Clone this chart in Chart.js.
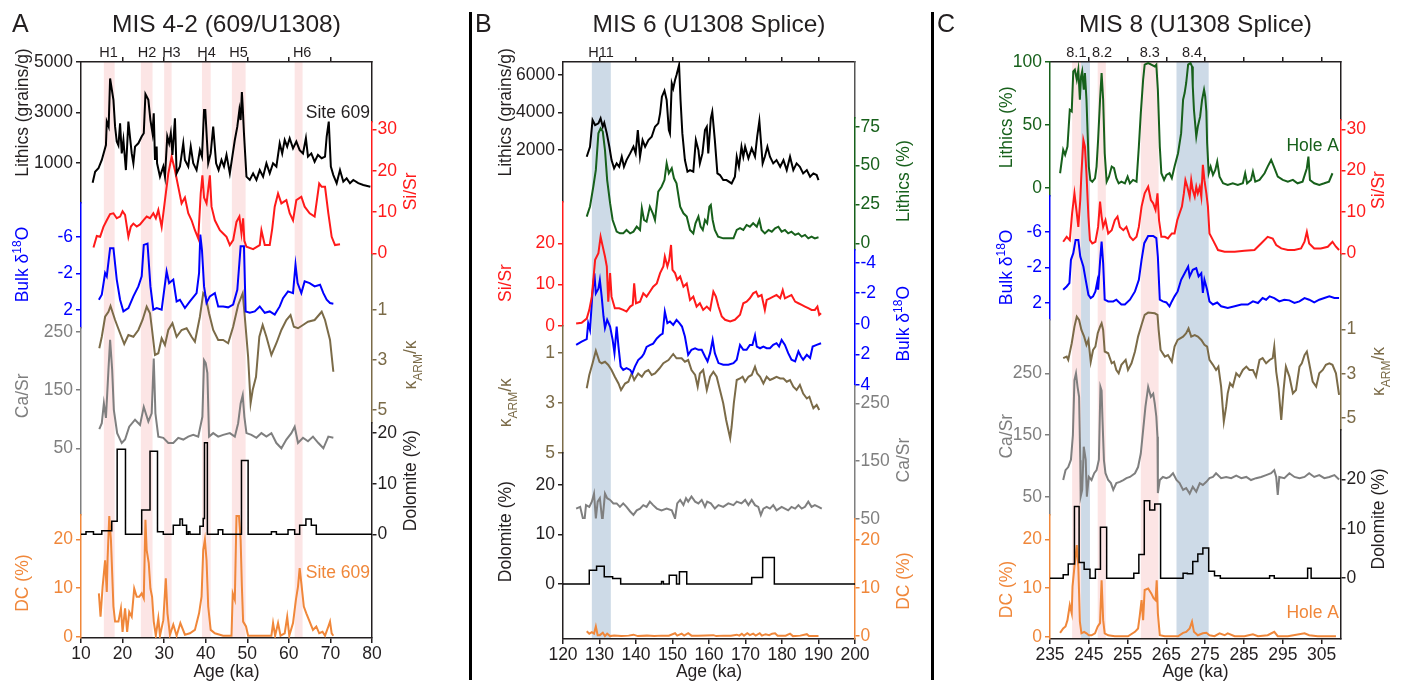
<!DOCTYPE html>
<html>
<head>
<meta charset="utf-8">
<script src="https://cdn.jsdelivr.net/npm/chart.js@4.4.1/dist/chart.umd.min.js"></script>
<style>
  body { margin: 0; background: #fff; width: 1406px; height: 687px; position: relative; overflow: hidden; }
  canvas { position: absolute; top: 0; }
  .rule { position: absolute; top: 12px; height: 668px; background: #000; }
</style>
</head>
<body>
<canvas id="cA" width="469" height="687" style="left:0"></canvas>
<div class="rule" style="left:469px;width:3px"></div>
<canvas id="cB" width="458" height="687" style="left:473px"></canvas>
<div class="rule" style="left:931px;width:2.5px"></div>
<canvas id="cC" width="472" height="687" style="left:934px"></canvas>
<script>
// ---- MIS 4-2 (609/U1308) : [age ka, value]
const aLith = [[12.8,220],[13.4,650],[14.2,790],[15.0,1120],[16.0,1710],[16.2,2640],[16.65,2440],[17.0,4350],[17.4,3920],[17.8,3500],[18.2,2440],[18.6,1850],[19.0,1700],[19.4,2570],[19.8,1380],[20.2,1910],[20.8,720],[21.4,2640],[22.2,1380],[22.6,990],[23.0,1650],[23.8,1780],[24.6,2050],[25.1,2180],[25.5,3730],[26.2,3500],[26.7,2700],[27.2,2180],[27.5,2970],[27.8,1120],[28.2,1650],[28.3,990],[29.0,460],[29.8,860],[30.2,460],[30.75,2050],[31.2,1780],[31.6,2180],[32.0,1320],[32.6,2770],[33.0,590],[33.8,860],[34.6,1780],[35.0,1120],[35.8,860],[36.4,1650],[37.0,990],[37.8,720],[38.6,1510],[39.1,1250],[39.6,3100],[39.9,3100],[40.2,2180],[40.6,990],[41.2,1380],[41.8,2440],[42.5,990],[43.1,720],[43.8,1120],[44.4,860],[45.0,1320],[45.8,590],[46.4,1250],[47.0,1910],[47.6,2440],[48.1,3100],[48.4,2700],[48.7,3810],[48.9,3230],[49.2,2180],[49.8,460],[50.6,330],[51.4,590],[52.2,330],[53.0,720],[53.8,460],[54.6,990],[55.4,590],[56.2,990],[57.0,860],[57.8,1780],[58.4,1380],[59.0,1910],[59.6,1650],[60.2,1980],[61.0,1580],[61.8,1850],[62.6,1510],[63.4,1380],[64.1,1980],[64.6,1250],[65.4,1380],[66.2,1050],[67.0,1320],[67.9,1190],[68.7,1250],[69.1,2050],[69.6,2640],[70.1,860],[70.7,520],[71.5,200],[72.3,720],[73.1,260],[73.9,390],[74.7,200],[75.5,330],[76.7,200],[77.9,130],[79.6,60]];
const aSiSr = [[13.0,1.4],[13.8,4.2],[14.6,4.0],[15.4,6.4],[16.2,8.0],[17.0,9.5],[17.8,9.7],[18.6,8.5],[19.4,8.9],[20.0,10.2],[20.6,9.3],[21.4,4.0],[22.0,6.5],[22.6,7.2],[23.4,6.5],[24.2,7.0],[25.0,8.0],[25.8,8.9],[26.6,8.5],[27.4,9.7],[28.0,8.5],[28.6,10.5],[29.4,6.4],[30.2,12.9],[31.0,19.3],[31.8,23.4],[32.6,20.1],[33.4,16.1],[34.2,12.1],[35.0,13.5],[35.8,9.7],[36.6,8.0],[37.4,5.6],[38.2,3.6],[38.8,14.5],[39.2,18.9],[39.6,13.5],[40.2,12.1],[41.0,18.9],[41.4,11.3],[42.2,8.0],[43.4,5.6],[44.2,4.8],[45.0,4.0],[45.8,2.0],[46.6,3.2],[47.4,7.6],[48.1,8.9],[48.6,4.8],[49.0,8.5],[49.3,3.0],[49.8,1.6],[51.4,1.0],[53.0,2.0],[53.4,5.6],[54.2,2.0],[55.4,2.0],[56.0,6.0],[56.6,11.3],[57.4,14.5],[58.2,12.1],[59.4,12.9],[60.2,9.7],[61.0,8.0],[61.8,12.9],[63.0,13.7],[63.8,11.3],[65.0,9.7],[66.2,8.9],[67.3,16.9],[67.9,16.1],[68.7,16.1],[69.5,9.7],[70.3,4.0],[71.1,2.0],[72.3,2.2]];
const aD18O = [[14.3,0.87],[15.0,0.32],[15.8,-2.06],[16.2,-1.7],[17.0,-4.8],[17.8,-4.8],[18.6,-1.35],[19.4,0.87],[20.2,2.15],[21.4,1.78],[22.6,0.5],[23.8,-0.6],[24.6,-1.7],[25.1,-5.16],[26.0,-5.3],[26.7,-0.6],[27.4,1.96],[28.2,1.78],[29.4,1.96],[30.6,-2.24],[31.2,-0.96],[32.2,-1.35],[33.0,1.05],[33.8,0.87],[35.0,1.78],[36.2,1.05],[37.8,0.14],[38.4,-2.06],[38.7,-6.3],[39.1,-4.6],[39.6,-0.6],[40.2,1.2],[41.0,0.5],[42.2,0.14],[43.0,1.6],[44.2,1.6],[45.4,1.7],[46.6,1.4],[47.6,-0.23],[48.1,-3.2],[48.4,-5.0],[49.2,-5.0],[49.6,2.15],[50.6,2.3],[51.8,2.15],[53.0,1.6],[54.2,2.3],[55.4,2.15],[56.6,2.5],[57.8,1.6],[58.6,0.7],[59.8,-0.05],[61.0,0.14],[61.6,-2.97],[62.1,-0.96],[63.0,0.14],[63.8,-1.15],[65.0,-0.96],[66.2,-0.6],[67.5,-0.78],[68.3,0.14],[69.1,0.87],[69.9,1.23],[70.7,1.3]];
const aKappa = [[14.4,2.53],[15.0,2.07],[15.8,1.27],[16.6,1.07],[17.1,0.84],[18.2,1.4],[19.4,1.93],[20.4,2.36],[21.4,2.0],[22.6,2.07],[23.8,1.8],[24.8,1.4],[25.8,0.87],[26.6,1.13],[27.1,1.8],[27.8,2.8],[28.6,2.73],[29.4,2.13],[30.2,2.4],[31.0,1.8],[32.0,1.53],[33.0,2.07],[34.2,1.8],[35.4,1.73],[36.6,2.07],[37.4,2.27],[38.6,1.27],[39.4,0.33],[40.0,0.47],[40.8,1.13],[41.8,1.8],[43.0,2.2],[44.2,2.2],[45.4,2.33],[46.6,1.67],[47.8,0.8],[48.9,0.33],[49.4,1.27],[50.2,2.87],[50.8,4.73],[51.3,4.2],[52.1,3.67],[52.9,2.07],[53.7,1.6],[54.6,2.07],[55.8,2.8],[57.0,2.33],[58.2,1.8],[59.4,1.4],[60.4,1.2],[61.2,1.67],[62.2,1.73],[63.4,1.6],[64.6,1.47],[66.2,1.4],[67.9,1.07],[68.7,1.4],[69.9,2.2],[70.7,3.47]];
const aCaSr = [[14.4,83],[15.0,93],[15.5,127],[16.0,102],[16.6,184],[17.0,236],[17.5,184],[17.9,116],[18.7,76],[19.8,59],[20.6,65],[21.6,87],[23.0,99],[24.2,90],[25.1,121],[26.2,96],[27.0,110],[27.5,204],[27.9,110],[28.6,70],[29.8,68],[31.0,59],[32.2,59],[33.4,68],[34.6,65],[35.8,70],[37.0,73],[38.2,70],[39.2,104],[39.6,201],[40.0,196],[40.4,179],[40.8,70],[41.8,76],[43.0,70],[44.2,73],[45.8,76],[47.0,70],[47.8,93],[48.4,127],[48.9,141],[49.3,104],[49.8,76],[51.0,73],[52.2,68],[53.4,76],[54.6,70],[55.8,76],[57.0,59],[58.2,50],[59.4,65],[60.6,76],[61.4,87],[62.2,59],[63.4,68],[64.6,62],[65.8,70],[67.1,59],[68.3,50],[69.5,70],[70.7,68]];
const aDol = [[10,0],[11.2,0.5],[13.0,0],[15.0,0.7],[17.4,2.6],[18.7,16.8],[20.7,0],[24.6,4.8],[26.6,16.4],[28.4,0.5],[29.8,0],[32.2,1.8],[33.8,3.0],[34.4,1.8],[35.4,0],[35.8,0.5],[36.2,0],[38.6,1.6],[39.4,3.1],[39.7,18.1],[40.4,0],[43.0,0.9],[44.1,0],[48.6,14.6],[50.2,0],[55.8,0.5],[57.0,0],[59.8,0.9],[61.4,0],[62.6,1.8],[64.1,3.0],[65.4,1.8],[66.6,0],[80,0]];
const aDc = [[14.3,8.9],[14.7,4.1],[15.2,10.3],[15.8,15.7],[16.2,9.2],[16.4,16.1],[16.8,24.8],[17.2,19.9],[17.8,6.2],[18.2,3.1],[19.0,3.1],[19.6,5.8],[20.0,1.0],[20.6,5.8],[21.1,1.0],[21.6,5.1],[22.2,4.1],[22.8,9.9],[23.4,8.2],[24.0,8.2],[24.6,8.9],[25.1,7.9],[25.5,24.0],[25.8,17.8],[26.3,15.1],[26.7,9.9],[27.1,8.2],[27.5,3.1],[28.0,0.2],[28.6,3.8],[29.0,0.2],[29.8,3.4],[30.4,12.0],[30.8,4.8],[31.4,0.4],[32.2,2.5],[33.0,0.2],[33.9,2.8],[35.0,0.4],[36.2,0.7],[37.4,1.4],[38.4,4.8],[39.0,8.2],[39.4,17.8],[39.8,19.9],[40.2,15.7],[40.6,6.2],[41.2,1.4],[42.2,0.7],[43.4,0.4],[44.2,0.2],[46.2,0.2],[46.5,8.9],[47.0,7.6],[47.4,24.8],[48.0,24.8],[48.4,19.9],[48.7,10.3],[49.0,3.1],[49.7,2.1],[50.2,0.2],[55.8,0.2],[56.2,2.8],[56.7,0.2],[57.4,2.8],[58.0,0.2],[59.0,0.7],[59.6,4.1],[60.1,0.2],[61.0,2.8],[61.7,7.6],[62.2,10.3],[62.6,14.1],[63.0,11.0],[63.6,6.2],[64.2,4.8],[65.0,3.1],[65.8,1.4],[66.6,2.1],[67.3,0.7],[68.1,1.0],[68.7,0.2],[69.5,2.1],[69.9,3.1],[70.3,0.7],[70.7,0.2]];

// ---- MIS 6 (U1308 Splice)
const bLith = [[126.5,1622],[127.4,2158],[128.1,3588],[128.8,3320],[129.7,3409],[130.3,3677],[130.9,3230],[131.3,3445],[132.0,2873],[132.7,2158],[133.3,1443],[134.0,1000],[134.7,1265],[135.4,1086],[136.1,1622],[136.7,1086],[137.4,1443],[138.4,1800],[139.3,2158],[139.9,1800],[140.5,3051],[141.1,1622],[141.8,2515],[142.5,2158],[143.4,2515],[144.3,2694],[145.2,3230],[146.1,3409],[146.6,3945],[147.1,4838],[147.8,5160],[148.4,4660],[149.0,3051],[149.3,2873],[149.8,5553],[150.2,5285],[150.7,5732],[151.1,6000],[151.8,6536],[152.2,4660],[152.7,2873],[153.4,1443],[154.1,818],[154.8,907],[155.7,818],[156.4,2515],[157.1,1979],[157.5,1265],[158.2,1800],[158.9,3051],[159.4,3230],[159.8,1800],[160.5,3677],[160.9,4034],[161.6,2515],[162.3,728],[163.0,640],[163.9,371],[164.8,371],[166.2,192],[167.1,550],[167.6,1622],[168.2,1086],[168.9,2158],[169.4,1622],[169.9,2158],[170.8,1532],[171.7,2069],[172.6,1622],[173.2,2694],[173.8,3535],[174.2,2515],[174.7,1265],[175.3,1622],[176.0,2158],[176.7,1622],[177.6,1265],[178.5,1443],[179.5,1086],[180.4,1443],[181.3,907],[182.2,1622],[183.1,907],[184.0,1265],[184.9,1086],[185.8,728],[186.8,907],[187.7,550],[188.6,728],[189.5,640],[190.0,371]];
const bLithPct = [[126.5,17.2],[127.4,23.7],[128.3,36.4],[129.0,47.2],[129.7,70.8],[130.3,74.0],[130.9,71.9],[131.5,60.0],[132.1,40.7],[132.9,25.8],[133.6,15.0],[134.7,7.5],[135.6,6.4],[136.5,6.4],[137.4,8.6],[138.4,6.4],[139.3,7.5],[140.2,10.7],[141.1,8.6],[141.6,22.6],[142.2,15.0],[142.9,13.9],[143.8,23.6],[144.6,19.3],[145.2,15.0],[146.1,33.2],[147.0,36.4],[147.8,40.7],[148.4,51.5],[149.0,45.0],[149.8,48.3],[150.4,41.8],[151.1,38.6],[152.1,23.6],[153.0,19.3],[153.9,17.2],[154.8,8.6],[155.7,6.4],[156.3,12.9],[157.1,17.2],[157.7,10.7],[158.3,8.6],[158.9,15.0],[159.5,12.9],[160.1,23.6],[160.5,24.7],[161.0,15.0],[161.6,8.6],[162.5,4.3],[163.9,3.2],[165.3,3.2],[166.7,3.2],[167.6,8.6],[168.5,9.7],[169.4,8.6],[170.3,11.8],[171.2,10.7],[172.1,12.9],[173.1,10.7],[173.8,15.0],[174.4,8.6],[175.3,6.4],[176.3,8.6],[177.2,7.5],[178.1,9.7],[179.0,10.7],[179.9,7.5],[180.8,8.6],[181.7,6.4],[182.6,7.5],[183.6,5.4],[184.5,6.4],[185.4,4.3],[186.3,5.4],[187.2,3.2],[188.1,4.3],[189.0,3.2],[190.0,3.9]];
const bSiSr = [[123.6,0.6],[125.1,0.8],[126.5,1.8],[127.2,3.9],[127.9,7.1],[128.8,16.0],[129.7,17.6],[130.3,21.6],[130.9,19.2],[131.5,16.8],[132.0,14.4],[132.4,5.9],[132.9,12.8],[133.3,7.1],[134.2,4.3],[135.4,4.3],[136.5,3.9],[137.4,3.5],[138.4,4.7],[139.1,5.1],[139.5,10.3],[140.0,5.5],[141.1,5.9],[142.0,7.9],[142.9,7.1],[143.8,8.3],[144.7,9.5],[145.7,10.3],[146.6,12.8],[147.5,14.4],[147.9,16.8],[148.6,14.4],[149.1,16.0],[149.6,19.6],[150.0,13.6],[150.7,12.8],[151.3,11.2],[152.1,12.0],[153.0,9.5],[153.9,10.3],[154.8,6.3],[155.7,7.1],[156.6,4.7],[157.5,5.5],[158.4,3.9],[159.4,4.7],[160.3,3.9],[161.2,8.3],[161.9,7.1],[162.6,4.7],[163.5,2.3],[164.4,1.5],[165.8,1.1],[167.1,1.5],[168.5,2.7],[169.4,5.5],[170.3,5.9],[171.2,6.7],[172.1,7.9],[172.9,8.3],[173.5,7.1],[174.4,7.5],[175.3,3.9],[175.8,6.3],[176.7,6.7],[177.6,7.1],[178.5,7.5],[179.5,6.7],[180.2,8.7],[180.8,6.7],[181.7,7.1],[182.6,7.5],[183.6,5.9],[184.5,5.5],[185.4,5.1],[186.3,4.7],[187.2,4.3],[188.1,3.9],[189.0,3.9],[189.7,4.7],[190.2,2.7],[190.7,3.1]];
const bD18O = [[123.6,1.38],[125.1,1.16],[126.5,1.0],[126.9,-0.04],[127.4,0.4],[128.0,-1.78],[128.6,-3.31],[129.0,-2.0],[129.7,-2.3],[130.1,-2.87],[130.6,-1.78],[131.1,-0.48],[131.5,0.28],[132.1,-0.26],[132.9,0.18],[133.6,1.05],[134.1,1.92],[134.7,0.18],[135.2,1.49],[135.8,2.8],[136.5,3.02],[137.4,2.9],[138.4,3.02],[139.0,3.24],[139.7,2.8],[140.6,2.37],[141.6,2.16],[142.2,1.94],[142.9,1.51],[143.8,1.4],[144.7,1.3],[145.7,0.96],[146.6,0.75],[147.3,0.64],[147.9,-0.8],[148.6,-0.04],[149.3,-0.15],[150.2,0.07],[151.1,-0.26],[151.9,-0.04],[152.6,0.18],[153.4,0.83],[154.3,2.03],[155.2,1.7],[156.2,1.6],[157.1,1.7],[158.0,1.7],[158.9,2.14],[159.6,2.46],[160.3,1.92],[161.0,1.05],[161.6,1.92],[162.6,2.57],[163.9,2.68],[165.3,2.68],[166.7,2.57],[167.6,2.35],[168.5,1.38],[169.4,1.7],[170.3,1.7],[171.2,1.38],[171.9,1.38],[172.6,0.75],[173.1,1.49],[174.0,1.6],[174.9,1.49],[175.8,1.6],[176.7,1.6],[177.6,1.38],[178.5,1.27],[179.2,1.49],[179.9,1.05],[180.8,1.38],[181.7,1.92],[182.6,2.35],[183.6,2.46],[184.5,1.81],[185.2,2.14],[185.8,2.35],[186.8,2.03],[187.7,2.24],[188.4,1.49],[189.5,1.38],[190.7,1.27]];
const bKappa = [[126.5,2.42],[127.2,1.89],[128.1,1.42],[129.0,0.92],[130.0,1.36],[130.6,1.42],[131.5,1.36],[132.4,1.49],[133.3,1.69],[134.2,1.96],[135.2,2.23],[135.9,2.49],[137.0,2.23],[137.9,2.16],[138.8,1.83],[139.5,2.09],[140.6,1.83],[141.6,1.96],[142.5,1.76],[143.4,1.69],[144.3,1.89],[145.2,1.83],[146.4,1.63],[147.5,1.42],[148.9,1.29],[150.2,1.05],[151.1,1.22],[152.5,1.22],[153.4,1.36],[154.3,1.29],[155.2,1.69],[156.2,1.89],[156.9,2.36],[157.5,1.83],[158.4,1.69],[159.4,2.49],[160.3,1.96],[161.2,1.76],[162.1,1.96],[163.0,2.49],[163.9,3.02],[164.7,3.69],[165.3,4.09],[165.8,4.42],[166.2,3.96],[166.8,3.02],[167.6,2.09],[168.5,2.03],[169.2,1.96],[169.9,2.16],[170.8,1.96],[171.7,1.89],[172.6,1.56],[173.2,1.83],[174.0,1.96],[174.9,2.23],[175.8,1.96],[176.7,2.09],[177.6,2.03],[178.5,1.96],[179.5,2.03],[180.4,2.03],[181.3,2.16],[182.2,2.09],[183.1,2.36],[184.0,2.49],[184.9,2.29],[185.8,2.63],[186.8,2.83],[187.5,2.76],[188.1,3.02],[188.6,3.22],[189.5,3.09],[190.2,3.29]];
const bCaSr = [[123.6,68],[124.7,71],[125.8,42],[126.3,74],[127.2,71],[127.9,80],[128.5,94],[129.0,51],[129.5,80],[130.1,86],[130.8,45],[131.5,94],[132.1,86],[132.9,83],[133.8,77],[134.7,77],[135.6,71],[136.5,77],[137.4,71],[138.4,63],[139.3,57],[140.2,65],[141.1,68],[142.0,74],[142.9,71],[143.8,80],[144.7,74],[145.7,68],[147.0,65],[148.4,68],[149.8,65],[150.7,51],[151.3,77],[152.1,83],[153.0,74],[153.7,86],[154.3,80],[155.2,89],[156.2,80],[157.1,77],[158.0,83],[158.9,71],[159.5,80],[160.5,77],[161.6,68],[162.6,74],[163.9,71],[165.3,77],[166.7,74],[167.6,80],[168.9,77],[169.9,83],[170.8,74],[171.7,83],[172.6,74],[173.5,71],[174.2,57],[174.9,68],[175.8,71],[176.7,68],[177.6,74],[178.5,65],[179.9,71],[180.8,68],[181.7,65],[182.6,71],[183.6,68],[184.5,74],[185.4,68],[186.3,71],[187.2,80],[188.1,71],[189.0,74],[190.0,71],[190.9,68]];
const bDol = [[120,0],[127.2,2.8],[129.2,3.6],[131.3,1.5],[133.6,1.15],[135.8,0],[147.0,0.5],[147.5,0],[149.1,1.8],[151.1,0],[151.9,2.5],[153.9,0],[171.7,1.35],[174.7,5.4],[177.9,0],[200,0]];
const bDc = [[126.5,1.0],[127.2,0.5],[127.9,0.8],[128.5,0.5],[129.0,2.0],[129.5,0.2],[130.1,0.2],[130.9,0.7],[131.5,0],[132.1,0.5],[132.9,0],[134.0,0.1],[136.0,0],[138.0,0.1],[139.3,0.3],[140.5,0],[143.0,0.1],[145.0,0],[147.0,0.1],[149.0,0.1],[150.7,0.6],[151.3,0.1],[152.5,0.5],[153.2,0.1],[154.3,0.6],[155.2,0.1],[157.0,0.1],[161.2,0.2],[162.0,0],[164.0,0.1],[166.0,0.1],[167.6,0.3],[168.3,0.1],[169.0,0.5],[169.6,0.1],[170.5,0.6],[171.2,0.2],[172.1,0.5],[172.8,0.1],[173.9,0.6],[174.5,0.1],[175.5,0.4],[176.5,0.2],[177.3,0.5],[178.1,0.6],[178.8,0.1],[181.0,0.1],[182.2,0.5],[183.0,0],[185.0,0.1],[186.8,0.4],[187.4,0],[190.0,0]];

// ---- MIS 8 (U1308 Splice)
const cLithPct = [[237.6,11.5],[238.4,30.1],[238.9,26.1],[239.5,32.7],[240.1,62.0],[240.6,60.7],[241.0,92.6],[241.4,93.9],[241.9,85.9],[242.3,93.9],[242.7,70.0],[243.0,88.6],[243.3,92.6],[243.7,77.9],[244.0,91.2],[244.4,70.0],[244.7,43.4],[245.0,16.8],[245.4,6.2],[245.9,4.8],[246.6,7.5],[247.0,16.8],[247.4,38.1],[247.9,70.0],[248.3,91.2],[248.7,70.0],[249.1,27.4],[249.6,4.8],[250.2,8.8],[250.9,16.8],[251.5,15.5],[252.1,7.5],[252.7,3.5],[253.4,4.8],[254.3,3.5],[255.0,8.8],[255.6,3.5],[256.4,6.2],[257.3,4.8],[257.9,32.7],[258.4,59.3],[259.0,85.9],[259.4,97.9],[260.3,99.2],[261.1,97.9],[262.0,96.5],[262.4,97.9],[262.8,77.9],[263.3,32.7],[263.7,11.5],[264.4,6.2],[265.0,10.2],[265.8,11.5],[266.4,7.5],[267.1,16.8],[268.0,27.4],[268.8,43.4],[269.3,70.0],[269.7,75.3],[270.1,83.3],[270.6,97.9],[271.2,99.2],[271.6,96.5],[271.8,80.6],[272.1,62.0],[272.7,40.7],[273.1,48.7],[273.7,56.7],[274.2,70.0],[274.7,77.9],[275.0,72.6],[275.3,60.7],[275.5,35.4],[275.9,11.5],[276.4,16.8],[277.0,10.2],[277.6,14.1],[278.1,20.8],[278.7,8.8],[279.6,3.5],[280.8,2.2],[282.1,3.5],[283.4,2.2],[284.7,3.5],[285.3,11.5],[285.8,3.5],[286.8,6.2],[287.3,12.8],[287.9,4.8],[289.0,6.2],[290.3,11.5],[291.1,16.8],[292.0,22.1],[292.7,16.8],[293.7,8.8],[295.0,6.2],[296.3,4.8],[297.6,6.2],[298.8,3.5],[300.1,4.8],[301.2,15.5],[301.6,24.8],[302.0,6.2],[303.1,3.5],[304.4,2.2],[305.7,3.5],[306.9,4.8],[307.8,11.5]];
const cSiSr = [[238.4,2.8],[239.3,4.0],[240.1,3.2],[240.7,9.7],[241.3,14.5],[241.9,9.7],[242.3,6.4],[242.8,12.9],[243.1,19.3],[243.6,27.4],[244.0,25.8],[244.4,19.3],[244.9,8.9],[245.3,3.2],[245.9,2.4],[246.7,2.8],[247.4,6.4],[247.9,12.5],[248.3,8.9],[248.7,6.4],[249.3,8.0],[250.0,4.8],[250.9,5.6],[251.7,8.0],[252.4,8.9],[253.0,6.4],[253.9,5.6],[254.7,6.4],[255.6,4.0],[256.4,3.2],[257.3,4.0],[257.9,6.4],[258.6,11.3],[259.4,14.5],[260.3,16.1],[261.0,12.9],[261.6,12.1],[262.2,10.5],[262.7,14.5],[263.1,8.0],[263.7,4.0],[264.6,4.0],[265.4,3.6],[266.4,4.8],[267.1,4.8],[267.8,8.0],[268.4,9.7],[269.0,11.3],[269.5,14.5],[269.9,17.7],[270.4,16.1],[271.0,13.7],[271.4,17.7],[271.8,15.3],[272.3,13.7],[272.7,16.1],[273.1,14.5],[273.6,16.1],[274.0,13.7],[274.4,21.4],[274.8,17.7],[275.3,14.5],[275.7,11.3],[276.1,4.8],[277.0,3.2],[278.3,0.8],[280.0,0.4],[282.6,0.4],[285.1,0.6],[287.7,0.8],[289.4,2.4],[291.1,4.0],[292.4,3.6],[293.3,2.0],[294.6,1.2],[296.3,0.8],[298.0,0.8],[299.7,1.2],[300.6,2.8],[301.2,5.2],[301.8,2.4],[303.1,1.2],[304.8,1.2],[306.6,1.6],[307.8,2.8],[308.7,1.6],[309.5,0.8]];
const cD18O = [[238.4,0.54],[239.3,0.16],[240.0,-0.22],[240.4,-2.85],[241.0,-3.6],[241.6,-5.1],[242.3,-5.1],[242.8,-3.22],[243.6,-2.09],[244.2,-0.59],[244.9,1.1],[245.5,1.47],[246.1,1.28],[246.7,0.72],[247.2,-0.4],[247.4,0.53],[247.9,-2.65],[248.3,-4.9],[248.7,-2.47],[249.1,1.66],[250.0,1.85],[251.3,1.85],[252.1,1.66],[253.4,2.2],[254.3,2.2],[255.6,1.66],[256.9,0.72],[257.9,-0.59],[258.6,-2.85],[259.3,-4.73],[260.3,-5.55],[261.6,-5.55],[262.4,-5.3],[262.8,-3.2],[263.3,1.66],[264.1,1.85],[265.0,1.97],[265.8,2.4],[266.4,1.85],[267.1,1.28],[267.9,0.72],[268.8,-0.59],[269.7,-1.34],[270.6,-2.09],[271.0,-0.97],[271.8,-1.72],[272.7,-1.9],[273.3,-0.97],[274.0,-1.34],[274.4,0.9],[274.8,-0.59],[275.5,0.53],[276.1,1.85],[277.0,2.2],[278.1,1.97],[279.1,2.4],[280.8,2.6],[282.6,2.4],[284.3,2.2],[286.0,2.2],[287.3,1.85],[288.6,2.03],[289.8,1.47],[290.7,1.66],[291.6,1.28],[292.8,1.47],[294.1,1.85],[295.4,1.66],[296.7,1.73],[298.0,2.03],[299.3,1.85],[300.6,1.47],[301.8,1.66],[303.1,1.97],[304.4,1.66],[305.7,1.47],[307.0,1.28],[308.3,1.47],[309.5,1.47]];
const cKappa = [[238.4,2.3],[239.3,2.23],[239.7,2.38],[240.6,1.63],[241.3,0.88],[241.9,0.43],[242.5,0.58],[243.1,1.03],[243.8,1.33],[244.4,1.7],[244.9,1.48],[245.5,2.46],[246.1,1.93],[246.7,1.78],[247.3,1.18],[247.9,0.88],[248.3,0.73],[248.7,1.03],[249.1,2.0],[250.0,2.08],[250.9,2.53],[251.5,2.46],[252.1,2.83],[252.7,2.98],[253.4,2.6],[254.5,2.38],[255.1,2.83],[256.0,2.53],[256.9,2.0],[257.7,1.33],[258.6,0.8],[259.4,0.35],[260.3,0.25],[262.0,0.28],[262.7,0.35],[263.0,1.03],[263.5,1.93],[264.6,2.23],[265.4,2.16],[266.4,2.46],[267.1,1.78],[267.9,1.48],[269.3,1.33],[270.1,1.18],[270.7,0.96],[271.4,1.33],[272.3,1.26],[273.1,1.33],[274.0,1.48],[274.8,1.7],[275.5,1.78],[276.1,2.38],[277.0,2.6],[277.8,2.83],[278.4,2.68],[279.1,3.58],[279.8,5.15],[280.4,4.48],[280.8,3.88],[281.4,3.43],[282.1,3.58],[283.0,2.98],[283.8,3.13],[284.7,2.83],[285.6,2.68],[286.4,2.83],[287.3,2.83],[288.1,3.13],[289.0,2.38],[289.8,2.3],[290.7,2.53],[291.6,2.38],[292.4,2.3],[292.8,1.78],[293.3,2.9],[293.9,3.65],[294.6,5.08],[295.2,3.73],[295.8,2.68],[296.7,3.13],[297.6,3.88],[298.4,3.73],[299.3,2.68],[299.9,2.53],[300.6,2.16],[301.2,2.0],[301.8,2.53],[302.7,3.35],[303.6,3.58],[304.4,2.98],[305.3,2.83],[306.1,2.6],[307.0,2.53],[307.8,2.6],[308.7,2.98],[309.5,3.95]];
const cCaSr = [[238.4,77],[239.0,93],[239.7,98],[240.4,110],[240.9,150],[241.3,239],[241.7,250],[242.1,228],[242.5,212],[242.8,109],[242.9,50],[243.3,61],[243.7,131],[244.2,110],[244.5,50],[245.0,82],[245.7,77],[246.4,88],[247.0,93],[247.6,110],[248.0,228],[248.3,222],[248.5,180],[248.9,109],[249.3,88],[250.0,77],[250.7,72],[251.3,61],[252.1,72],[253.0,74],[253.9,77],[254.7,80],[255.6,82],[256.9,88],[257.7,98],[258.4,120],[259.0,158],[259.6,196],[260.3,228],[261.0,212],[261.6,217],[262.0,201],[262.4,180],[262.7,147],[262.8,56],[263.3,77],[264.1,82],[265.0,80],[265.8,82],[266.7,88],[267.6,77],[268.4,72],[269.3,61],[270.1,64],[271.0,55],[271.8,66],[272.7,58],[273.6,72],[274.4,69],[275.3,74],[276.1,80],[277.0,82],[277.8,88],[279.1,80],[280.4,82],[281.7,80],[283.0,84],[284.3,80],[285.6,82],[286.8,77],[288.1,80],[289.4,82],[290.7,85],[292.0,88],[292.8,93],[293.3,82],[293.7,53],[294.1,82],[295.4,80],[296.7,88],[298.0,82],[299.3,80],[300.6,82],[301.8,88],[303.1,82],[304.4,85],[305.7,80],[307.0,82],[308.3,85],[309.5,78]];
const cDol = [[235,0],[238.4,0.7],[239.7,2.9],[241.3,14.5],[242.5,3.2],[243.8,1.8],[245.3,0],[246.7,1.8],[248.0,10.3],[249.6,0],[256.6,1.0],[257.9,4.8],[259.3,15.7],[260.7,13.8],[262.0,15.0],[263.5,0],[269.3,1.0],[270.4,0.9],[271.8,3.4],[273.1,4.9],[274.4,6.1],[275.9,1.4],[277.4,0.5],[278.9,0],[291.6,0.5],[292.8,0],[301.4,2.0],[302.3,0],[310,0]];
const cDc = [[237.6,0.8],[238.4,1.7],[239.0,2.1],[239.5,3.4],[240.1,6.5],[240.6,4.8],[240.8,10.3],[241.3,14.4],[241.9,18.8],[242.3,14.4],[242.7,3.1],[243.1,0.7],[243.8,1.0],[244.4,0.7],[245.0,0.3],[245.7,0.3],[246.6,0.7],[247.3,2.1],[247.9,2.8],[248.3,11.6],[248.7,3.4],[249.1,0.7],[250.0,0.3],[251.7,0.1],[253.4,0.1],[255.1,0.1],[256.9,1.0],[257.7,1.7],[258.1,4.1],[258.6,7.5],[259.0,3.4],[259.4,9.6],[260.3,9.9],[261.1,8.9],[261.7,7.9],[262.2,7.5],[262.5,11.6],[262.8,4.8],[263.3,0.3],[264.6,0.1],[266.3,0.1],[268.0,0.1],[269.3,0.8],[270.1,1.0],[271.0,1.7],[271.6,3.1],[272.1,1.0],[273.1,0.3],[274.4,0.7],[275.3,0.8],[276.1,0.3],[277.4,0.1],[278.7,0.7],[280.0,0.3],[280.8,0.7],[282.6,0.1],[285.1,0.1],[287.3,0.5],[288.6,0.1],[291.1,0.3],[292.8,1.0],[293.7,0.1],[296.3,0.1],[300.6,0.7],[301.8,0.3],[304.0,0.1],[307.4,0.1],[308.7,0.1]];

const INK = '#231f20';
const RED = '#ff1a1a';
const BLUE = '#0000ff';
const GRAY = '#7f7f7f';
const BROWN = '#7b6b48';
const ORANGE = '#f0873a';
const GREEN = '#17601b';
const PINK = 'rgba(252,224,224,0.85)';
const STEEL = 'rgba(200,214,228,0.9)';
const FAMILY = '"Liberation Sans", Arial, Helvetica, sans-serif';

const D18O = [['Bulk δ', 'n'], ['18', 'sup'], ['O', 'n']];
const KAPPA = [['κ', 'n'], ['ARM', 'sub'], ['/κ', 'n']];

Chart.defaults.font.family = FAMILY;
Chart.defaults.font.size = 17.5;
Chart.defaults.color = INK;

// rotated axis title with optional super/subscript pieces
function vText(ctx, segs, cx, cy, color) {
  const base = 17.5, small = 12;
  const font = m => (m === 'n' ? base : small) + 'px ' + FAMILY;
  let w = 0;
  segs.forEach(([t, m]) => { ctx.font = font(m); w += ctx.measureText(t).width; });
  ctx.save();
  ctx.translate(cx + base * 0.36, cy);
  ctx.rotate(-Math.PI / 2);
  ctx.fillStyle = color;
  ctx.textAlign = 'left';
  ctx.textBaseline = 'alphabetic';
  let x = -w / 2;
  segs.forEach(([t, m]) => {
    ctx.font = font(m);
    const dy = m === 'sup' ? -base * 0.4 : m === 'sub' ? base * 0.3 : 0;
    ctx.fillText(t, x, dy);
    x += ctx.measureText(t).width;
  });
  ctx.restore();
}

function yScale(ax, side, weight, width) {
  const s = {
    type: 'linear', axis: 'y', position: side, stack: side, stackWeight: ax.band, weight: weight,
    bounds: 'data',
    afterFit: sc => { sc.width = width; },
    border: { display: true, color: ax.color, width: 1.5 },
    grid: { display: !!ax.ticks, drawOnChartArea: false, tickLength: side === 'left' ? 5 : 4.5, color: ax.color, lineWidth: 1.5 },
    ticks: { display: !!ax.ticks, color: ax.color, padding: side === 'left' ? 3 : 1, autoSkip: false, callback: v => String(v) }
  };
  if (ax.ticks) {
    s.min = ax.min; s.max = ax.max; s.reverse = !!ax.reverse;
    s.afterBuildTicks = sc => { sc.ticks = ax.ticks.map(v => ({ value: v })); };
  }
  return s;
}

function decor(p) {
  return {
    id: 'decor',
    beforeDraw(chart) {
      const { ctx, chartArea: a } = chart;
      const x = chart.scales.x;
      ctx.save();
      p.bands.forEach(([x0, x1, kind]) => {
        const l = x.getPixelForValue(x0), r = x.getPixelForValue(x1);
        ctx.fillStyle = kind === 'b' ? STEEL : PINK;
        ctx.fillRect(l, a.top, r - l, a.bottom - a.top);
      });
      ctx.restore();
    },
    afterDraw(chart) {
      const { ctx, chartArea: a } = chart;
      const x = chart.scales.x;
      ctx.save();
      ctx.fillStyle = INK;
      ctx.textBaseline = 'alphabetic';
      ctx.font = '25px ' + FAMILY;
      ctx.textAlign = 'left';
      ctx.fillText(p.letter, p.letterX, 31.5);
      ctx.font = '24.5px ' + FAMILY;
      ctx.textAlign = 'center';
      ctx.fillText(p.title, (a.left + a.right) / 2, 31.5);
      ctx.font = '14.5px ' + FAMILY;
      p.events.forEach(([t, v]) => ctx.fillText(t, x.getPixelForValue(v), a.top - 5));
      p.left.forEach(ax => {
        if (!ax.title) return;
        const segs = typeof ax.title === 'string' ? [[ax.title, 'n']] : ax.title;
        vText(ctx, segs, a.left - p.leftGap, chart.scales[ax.id].getPixelForValue(ax.titleAt), ax.color);
      });
      p.right.forEach(ax => {
        if (!ax.title) return;
        const segs = typeof ax.title === 'string' ? [[ax.title, 'n']] : ax.title;
        vText(ctx, segs, a.right + p.rightGap, chart.scales[ax.id].getPixelForValue(ax.titleAt), ax.color);
      });
      ctx.font = '17.5px ' + FAMILY;
      ctx.textAlign = 'right';
      p.notes.forEach(([t, color, id, v]) => {
        ctx.fillStyle = color;
        ctx.fillText(t, a.right - 2, chart.scales[id].getPixelForValue(v));
      });
      ctx.restore();
    }
  };
}

function panel(p) {
  const scales = {
    x: {
      type: 'linear', position: 'bottom', min: p.xMin, max: p.xMax, bounds: 'data',
      afterBuildTicks: s => { s.ticks = p.xTicks.map(v => ({ value: v })); },
      afterFit: s => { s.height = p.h - p.bottom; },
      border: { color: INK, width: 1.5 },
      grid: { drawOnChartArea: false, tickLength: 5, color: INK, lineWidth: 1.5 },
      ticks: { color: INK, padding: 1, autoSkip: false, maxRotation: 0, callback: v => String(v) },
      title: { display: true, text: 'Age (ka)', color: INK, padding: { top: 0, bottom: 4 } }
    },
    xTop: {
      type: 'linear', position: 'top', min: p.xMin, max: p.xMax, bounds: 'data',
      afterBuildTicks: s => { s.ticks = p.topTicks.map(v => ({ value: v })); },
      afterFit: s => { s.height = p.top; },
      border: { color: INK, width: 1.5 },
      grid: { drawOnChartArea: false, tickLength: 5, color: INK, lineWidth: 1.5 },
      ticks: { display: false }
    }
  };
  p.left.forEach((ax, i) => { scales[ax.id] = yScale(ax, 'left', p.left.length - i, p.leftW); });
  p.right.forEach((ax, i) => { scales[ax.id] = yScale(ax, 'right', i + 1, p.rightW); });

  const datasets = p.series.map(s => ({
    data: s.data.map(([x, y]) => ({ x, y })),
    xAxisID: 'x', yAxisID: s.axis,
    borderColor: s.color, borderWidth: s.width || 2,
    pointRadius: 0, fill: false, tension: 0,
    stepped: s.step ? 'before' : false
  }));

  new Chart(document.getElementById(p.el), {
    type: 'line',
    data: { datasets },
    options: {
      responsive: false, animation: false,
      layout: { padding: 0 },
      plugins: { legend: { display: false }, tooltip: { enabled: false } },
      scales
    },
    plugins: [decor(p)]
  });
}

panel({
  el: 'cA', h: 687, top: 62, bottom: 638, leftW: 81, rightW: 97, leftGap: 59, rightGap: 38,
  xMin: 10, xMax: 80, xTicks: [10, 20, 30, 40, 50, 60, 70, 80], topTicks: [20, 30, 40, 50, 60, 70],
  letter: 'A', letterX: 12, title: 'MIS 4-2 (609/U1308)',
  events: [['H1', 16.6], ['H2', 25.9], ['H3', 31.75], ['H4', 40.2], ['H5', 47.9], ['H6', 63.2]],
  bands: [[15.5, 18.1], [24.4, 27.2], [30.0, 31.8], [39.1, 41.2], [46.3, 49.6], [61.4, 63.3]],
  left: [
    { id: 'lith', band: 141, min: -584, max: 5000, ticks: [1000, 3000, 5000], color: INK, title: 'Lithics (grains/g)', titleAt: 3000 },
    { id: 'd18O', band: 125, min: -9.76, max: 3.97, reverse: true, ticks: [-6, -2, 2], color: BLUE, title: D18O, titleAt: -3 },
    { id: 'caSr', band: 187, min: -64.4, max: 256.3, ticks: [50, 150, 250], color: GRAY, title: 'Ca/Sr', titleAt: 140 },
    { id: 'dc', band: 123, min: -0.27, max: 25, ticks: [0, 10, 20], color: ORANGE, title: 'DC (%)', titleAt: 11 }
  ],
  right: [
    { id: 'rTop', band: 60, color: INK },
    { id: 'siSr', band: 133, min: -0.4, max: 31.8, ticks: [0, 10, 20, 30], color: RED, title: 'Si/Sr', titleAt: 15 },
    { id: 'kappa', band: 168, min: -1.2, max: 5.52, reverse: true, ticks: [1, 3, 5], color: BROWN, title: KAPPA, titleAt: 3.2 },
    { id: 'dol', band: 215, min: -20.5, max: 22.0, ticks: [0, 10, 20], color: INK, title: 'Dolomite (%)', titleAt: 10.6 }
  ],
  series: [
    { data: aLith, axis: 'lith', color: '#000' },
    { data: aSiSr, axis: 'siSr', color: RED },
    { data: aD18O, axis: 'd18O', color: BLUE },
    { data: aKappa, axis: 'kappa', color: BROWN },
    { data: aCaSr, axis: 'caSr', color: GRAY },
    { data: aDol, axis: 'dol', color: '#000', width: 1.5, step: true },
    { data: aDc, axis: 'dc', color: ORANGE }
  ],
  notes: [['Site 609', INK, 'lith', 2800], ['Site 609', ORANGE, 'dc', 12]]
});

panel({
  el: 'cB', h: 687, top: 62, bottom: 639, leftW: 90, rightW: 76, leftGap: 58, rightGap: 48,
  xMin: 120, xMax: 200, xTicks: [120, 130, 140, 150, 160, 170, 180, 190, 200], topTicks: [130, 140, 150, 160, 170, 180, 190],
  letter: 'B', letterX: 2, title: 'MIS 6 (U1308 Splice)',
  events: [['H11', 130.4]],
  bands: [[127.9, 133.1, 'b']],
  left: [
    { id: 'lith', band: 140, min: -803, max: 6697, ticks: [2000, 4000, 6000], color: INK, title: 'Lithics (grains/g)', titleAt: 4000 },
    { id: 'siSr', band: 124, min: 0, max: 30, ticks: [0, 10, 20], color: RED, title: 'Si/Sr', titleAt: 10.4 },
    { id: 'kappa', band: 127, min: -0.07, max: 5.01, reverse: true, ticks: [1, 3, 5], color: BROWN, title: KAPPA, titleAt: 3 },
    { id: 'dol', band: 186, min: -11.1, max: 26.5, ticks: [0, 10, 20], color: INK, title: 'Dolomite (%)', titleAt: 10.6 }
  ],
  right: [
    { id: 'rTop', band: 56, color: '#555' },
    { id: 'lithPct', band: 132, min: -4.3, max: 80.6, ticks: [0, 25, 50, 75], color: GREEN, title: 'Lithics (%)', titleAt: 40 },
    { id: 'd18O', band: 136, min: -4.83, max: 4.07, reverse: true, ticks: [-4, -2, 0, 2, 4], color: BLUE, title: D18O, titleAt: 0 },
    { id: 'caSr', band: 133, min: 50, max: 280, ticks: [50, 150, 250], color: GRAY, title: 'Ca/Sr', titleAt: 152 },
    { id: 'dc', band: 120, min: -0.6, max: 24.3, ticks: [0, 10, 20], color: ORANGE, title: 'DC (%)', titleAt: 11.4 }
  ],
  series: [
    { data: bLith, axis: 'lith', color: '#000' },
    { data: bLithPct, axis: 'lithPct', color: GREEN },
    { data: bSiSr, axis: 'siSr', color: RED },
    { data: bD18O, axis: 'd18O', color: BLUE },
    { data: bKappa, axis: 'kappa', color: BROWN },
    { data: bCaSr, axis: 'caSr', color: GRAY },
    { data: bDol, axis: 'dol', color: '#000', width: 1.5, step: true },
    { data: bDc, axis: 'dc', color: ORANGE }
  ],
  notes: []
});

panel({
  el: 'cC', h: 687, top: 62, bottom: 639, leftW: 116, rightW: 65, leftGap: 44, rightGap: 37,
  xMin: 235, xMax: 310, xTicks: [235, 245, 255, 265, 275, 285, 295, 305], topTicks: [245, 255, 265, 275, 285, 295, 305],
  letter: 'C', letterX: 3, title: 'MIS 8 (U1308 Splice)',
  events: [['8.1', 241.8], ['8.2', 248.4], ['8.3', 260.7], ['8.4', 271.6]],
  bands: [[240.7, 243.0], [243.0, 245.3, 'b'], [247.3, 249.4], [258.4, 263.0], [267.6, 275.9, 'b']],
  left: [
    { id: 'lithPct', band: 134, min: -6.6, max: 100, ticks: [0, 50, 100], color: GREEN, title: 'Lithics (%)', titleAt: 48 },
    { id: 'd18O', band: 124, min: -10.06, max: 3.95, reverse: true, ticks: [-6, -2, 2], color: BLUE, title: D18O, titleAt: -2 },
    { id: 'caSr', band: 195, min: 20.3, max: 336.4, ticks: [50, 150, 250], color: GRAY, title: 'Ca/Sr', titleAt: 148 },
    { id: 'dc', band: 124, min: -0.47, max: 25, ticks: [0, 10, 20], color: ORANGE, title: 'DC (%)', titleAt: 9.7 }
  ],
  right: [
    { id: 'rTop', band: 58, color: INK },
    { id: 'siSr', band: 135, min: -0.4, max: 32.25, ticks: [0, 10, 20, 30], color: RED, title: 'Si/Sr', titleAt: 15.3 },
    { id: 'kappa', band: 175, min: -2.34, max: 5.53, reverse: true, ticks: [1, 3, 5], color: BROWN, title: KAPPA, titleAt: 2.9 },
    { id: 'dol', band: 209, min: -12.3, max: 30, ticks: [0, 10, 20], color: INK, title: 'Dolomite (%)', titleAt: 12 }
  ],
  series: [
    { data: cLithPct, axis: 'lithPct', color: GREEN },
    { data: cSiSr, axis: 'siSr', color: RED },
    { data: cD18O, axis: 'd18O', color: BLUE },
    { data: cKappa, axis: 'kappa', color: BROWN },
    { data: cCaSr, axis: 'caSr', color: GRAY },
    { data: cDol, axis: 'dol', color: '#000', width: 1.5, step: true },
    { data: cDc, axis: 'dc', color: ORANGE }
  ],
  notes: [['Hole A', GREEN, 'lithPct', 29.5], ['Hole A', ORANGE, 'dc', 3.8]]
});
</script>
</body>
</html>
